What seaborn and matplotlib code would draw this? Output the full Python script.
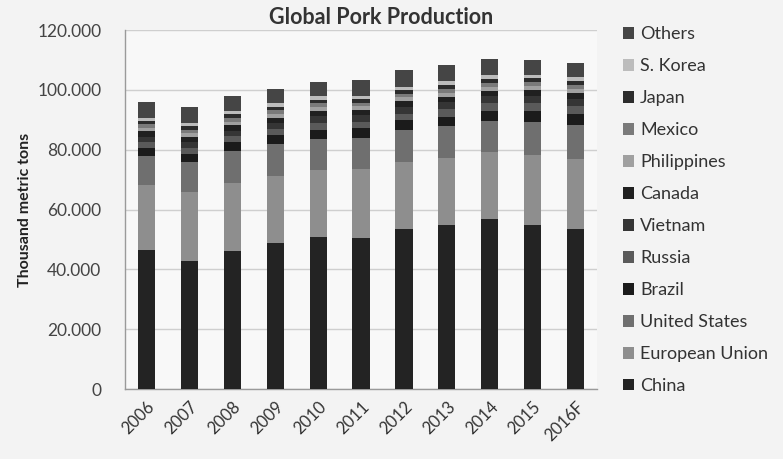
import numpy as np
import pandas as pd
import matplotlib
matplotlib.use("Agg")
import matplotlib.pyplot as plt
from matplotlib.patches import Patch
from matplotlib.ticker import FuncFormatter, MultipleLocator
import seaborn as sns

years = ["2006", "2007", "2008", "2009", "2010", "2011", "2012", "2013", "2014", "2015", "2016F"]

# thousand metric tons, bottom to top
china       = [46500, 42900, 46200, 48900, 50700, 50600, 53400, 54900, 56700, 54900, 53500]
eu          = [21800, 22860, 22600, 22430, 22630, 22950, 22530, 22360, 22540, 23350, 23400]
us          = [9560, 9960, 10600, 10440, 10190, 10330, 10550, 10530, 10370, 11120, 11300]
brazil      = [2830, 2990, 3020, 3130, 3200, 3230, 3330, 3280, 3400, 3520, 3600]
russia      = [1800, 1910, 2060, 2170, 2330, 2060, 2180, 2400, 2510, 2620, 2750]
vietnam     = [1710, 1830, 1850, 1850, 2220, 2260, 2310, 2350, 2430, 2450, 2480]
canada      = [1900, 1890, 1790, 1790, 1770, 1810, 1840, 1820, 1810, 1890, 1920]
philippines = [1220, 1250, 1230, 1240, 1260, 1290, 1310, 1340, 1350, 1370, 1390]
mexico      = [1110, 1150, 1160, 1160, 1180, 1200, 1240, 1280, 1290, 1320, 1350]
japan       = [1250, 1250, 1250, 1310, 1290, 1270, 1300, 1310, 1260, 1270, 1270]
s_korea     = [1000, 1040, 1060, 1060, 1110, 840, 1090, 1250, 1200, 1220, 1260]
others      = [5100, 5200, 5100, 4700, 4800, 5500, 5500, 5600, 5400, 5000, 4700]

series_names = ["China", "European Union", "United States", "Brazil", "Russia", "Vietnam",
                "Canada", "Philippines", "Mexico", "Japan", "S. Korea", "Others"]
series_vals = [china, eu, us, brazil, russia, vietnam, canada, philippines, mexico, japan, s_korea, others]
colors = ["#232323", "#8e8e8e", "#6f6f6f", "#1b1b1b", "#5a5a5a", "#353535",
          "#202020", "#a0a0a0", "#7a7a7a", "#2c2c2c", "#bcbcbc", "#454545"]

sns.set_style("white")
plt.rcParams["font.family"] = ["Lato", "DejaVu Sans"]

fig = plt.figure(figsize=(7.83, 4.59), dpi=100, facecolor="#f3f3f3")
ax = fig.add_axes([0.1596, 0.1525, 0.6029, 0.7821])
ax.set_facecolor("#f8f8f8")

cum = np.cumsum(np.array(series_vals, dtype=float), axis=0)
for i in range(len(series_names) - 1, -1, -1):
    df = pd.DataFrame({"year": years, "value": cum[i]})
    sns.barplot(data=df, x="year", y="value", color=colors[i], saturation=1,
                width=0.40, ax=ax, zorder=3, linewidth=0)

ax.set_ylim(0, 120000)
ax.set_xlim(-0.5, len(years) - 0.5)
ax.yaxis.set_major_locator(MultipleLocator(20000))
ax.yaxis.set_major_formatter(FuncFormatter(lambda v, p: f"{int(v):,}".replace(",", ".")))
ax.grid(axis="y", color="#cfcfcf", linewidth=1.0, zorder=0)
ax.set_axisbelow(True)

for s in ["top", "right"]:
    ax.spines[s].set_visible(False)
for s in ["left", "bottom"]:
    ax.spines[s].set_color("#9a9a9a")
    ax.spines[s].set_linewidth(1.0)

ax.set_xticks(np.arange(len(years)))
ax.set_xticklabels(years, rotation=45, ha="right", rotation_mode="anchor", fontsize=12, color="#333333")
ax.set_xticks(np.arange(-0.5, len(years), 1.0), minor=True)
ax.tick_params(axis="x", which="major", length=0, pad=7)
ax.tick_params(axis="x", which="minor", length=4, color="#9a9a9a", direction="out")
ax.tick_params(axis="y", length=5, color="#9a9a9a", labelsize=12.5, labelcolor="#444444", pad=12)
ax.set_xlabel("")
ax.set_ylabel("Thousand metric tons", fontsize=11.5, fontweight="bold", color="#222222", labelpad=4)

fig.text(381 / 783, 1 - 17 / 459, "Global Pork Production", ha="center", va="center",
         fontsize=15.5, fontweight="bold", color="#333333")

handles = [Patch(facecolor=colors[i], edgecolor="none", label=series_names[i])
           for i in range(len(series_names) - 1, -1, -1)]
leg = fig.legend(handles=handles, loc="upper left", bbox_to_anchor=(0.775, 0.978),
                 frameon=False, fontsize=13, handlelength=0.6, handleheight=0.6,
                 handletextpad=0.35, labelspacing=0.885, labelcolor="#333333")

fig.savefig("out.png", dpi=100, facecolor=fig.get_facecolor())
